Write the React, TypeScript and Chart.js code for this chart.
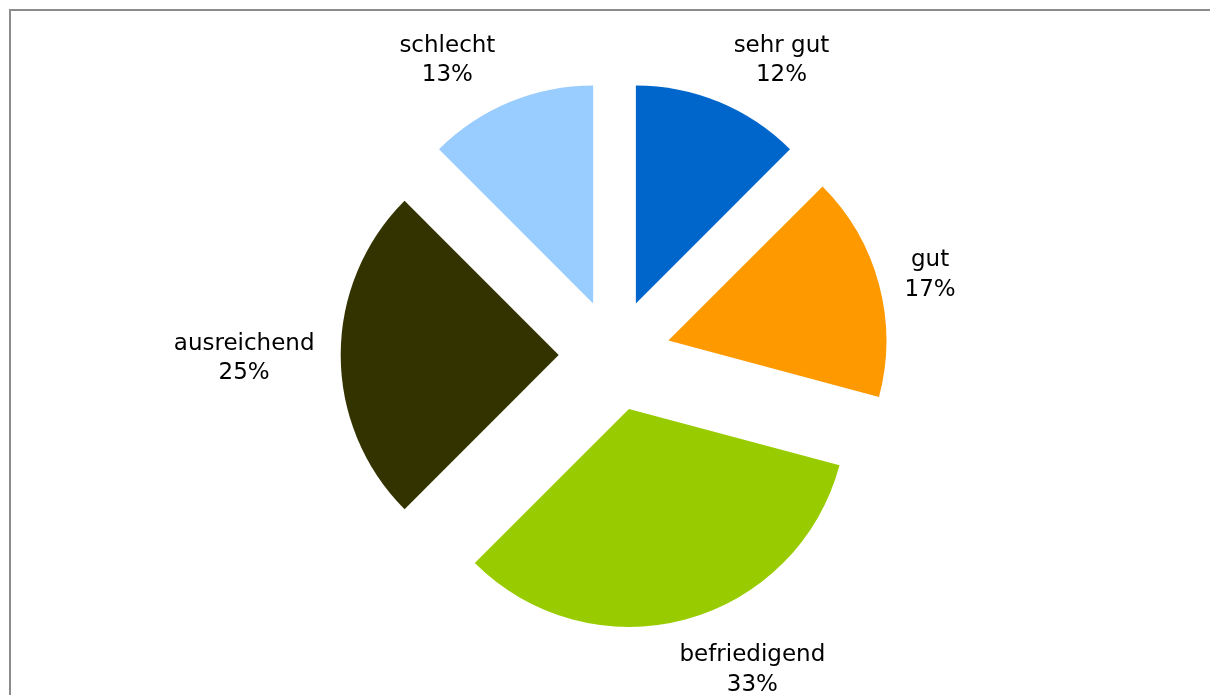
import React, { useEffect, useRef } from "react";
import { Chart, registerables } from "chart.js";

Chart.register(...registerables);

const categories = ["sehr gut", "gut", "befriedigend", "ausreichend", "schlecht"];
const counts = [3, 4, 8, 6, 3];
const percentLabels = ["12%", "17%", "33%", "25%", "13%"];
const colors = ["#0066CC", "#FF9900", "#99CC00", "#333300", "#99CCFF"];

const EXPLODE = 55.8;
const RADIUS = 218;
const LABEL_R = 293;
const LABEL_PAD = 7;
const LINE_H = 29.5;
const FONT = '23px "DejaVu Sans"';

const explodePlugin = {
  id: "explode",
  beforeDatasetDraw(chart: any, args: any) {
    const ctx = chart.ctx;
    args.meta.data.forEach((arc: any) => {
      const mid = (arc.startAngle + arc.endAngle) / 2;
      ctx.save();
      ctx.translate(Math.cos(mid) * EXPLODE, Math.sin(mid) * EXPLODE);
      arc.draw(ctx, chart.chartArea);
      ctx.restore();
    });
    return false;
  },
};

const framePlugin = {
  id: "frame",
  beforeDraw(chart: any) {
    const ctx = chart.ctx;
    ctx.save();
    ctx.fillStyle = "#8c8c8c";
    ctx.fillRect(9, 9, chart.width - 9, 2);
    ctx.fillRect(9, 9, 2, chart.height - 9);
    ctx.restore();
  },
};

const labelPlugin = {
  id: "outsideLabels",
  afterDatasetsDraw(chart: any) {
    const ctx = chart.ctx;
    const meta = chart.getDatasetMeta(0);
    ctx.save();
    ctx.font = FONT;
    ctx.fillStyle = "#000000";
    ctx.textAlign = "center";
    ctx.textBaseline = "alphabetic";
    meta.data.forEach((arc: any, i: number) => {
      const mid = (arc.startAngle + arc.endAngle) / 2;
      const dx = Math.cos(mid);
      const dy = Math.sin(mid);
      const lines = [categories[i], percentLabels[i]];
      const w = Math.max(...lines.map((l) => ctx.measureText(l).width));
      const h = LINE_H * 2;
      const sx = Math.max(-1, Math.min(1, 3 * dx));
      const cx = arc.x + LABEL_R * dx + sx * (w / 2 + LABEL_PAD);
      const cy = arc.y + LABEL_R * dy + (dy * h) / 2;
      ctx.fillText(lines[0], cx, cy + 9.5 - LINE_H / 2);
      ctx.fillText(lines[1], cx, cy + 9.5 + LINE_H / 2);
    });
    ctx.restore();
  },
};

export default function App() {
  const ref = useRef<HTMLCanvasElement | null>(null);
  useEffect(() => {
    if (!ref.current) return;
    const chart = new Chart(ref.current, {
      type: "pie",
      data: {
        labels: categories,
        datasets: [
          {
            data: counts,
            backgroundColor: colors,
            borderWidth: 0,
            hoverOffset: 0,
          },
        ],
      },
      options: {
        responsive: false,
        animation: false,
        radius: RADIUS,
        layout: { padding: { left: 19, right: 0, top: 15, bottom: 0 } },
        plugins: {
          legend: { display: false },
          tooltip: { enabled: false },
        },
        events: [],
      } as any,
      plugins: [framePlugin, explodePlugin, labelPlugin],
    });
    return () => chart.destroy();
  }, []);
  return (
    <div style={{ position: "fixed", left: 0, top: 0, width: 1210, height: 695, background: "#ffffff" }}>
      <canvas ref={ref} width={1210} height={695} style={{ display: "block" }} />
    </div>
  );
}
